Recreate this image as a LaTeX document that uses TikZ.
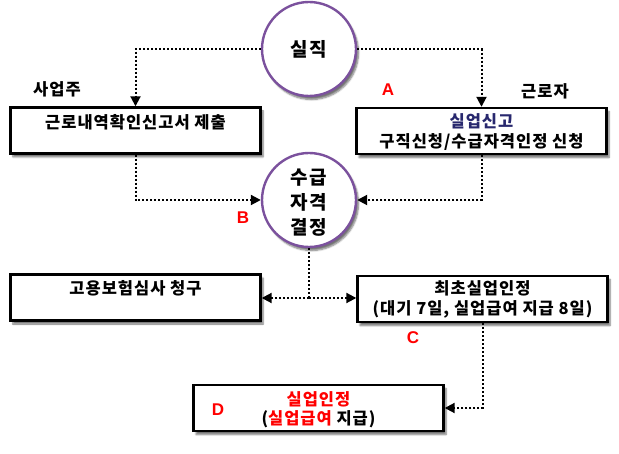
\documentclass[tikz,border=0pt]{standalone}
\usepackage{fontspec}
\newfontfamily\kr{Noto Sans CJK KR}[LetterSpace=6]
\newfontfamily\lat{Liberation Sans}
\usetikzlibrary{arrows.meta,shadows.blur}
\definecolor{cpurple}{RGB}{123,81,157}
\definecolor{cnavy}{RGB}{40,40,110}
\begin{document}
\begin{tikzpicture}[x=1pt,y=-1pt,
  shad/.style={blur shadow={shadow xshift=2.5pt,shadow yshift=-3.5pt,shadow blur steps=6,shadow opacity=55}},
  box/.style={draw=black,line width=2.4pt,fill=white,minimum width=250pt,minimum height=46pt,inner sep=0pt,shad},
  circ/.style={circle,draw=cpurple,line width=2.4pt,fill=white,minimum size=94pt,inner sep=0pt,shad},
  txt/.style={font=\kr\bfseries\fontsize{16.5}{18}\selectfont,inner sep=0pt},
  big/.style={font=\kr\bfseries\fontsize{19}{25}\selectfont,align=center,inner sep=0pt},
  letr/.style={font=\lat\bfseries\fontsize{17}{17}\selectfont,text=red,inner sep=0pt},
  conn/.style={dotted,line width=2pt,-{Triangle[length=10pt,width=10pt]}}]
\useasboundingbox (0,0) rectangle (619,454);

% nodes
\node[circ] (c1) at (309,49) {};
\node[big] (t1) at (309,49) {실직};
\node[circ] (c2) at (309,200) {};
\node[big] (t2) at (309,203) {수급\\자격\\결정};

\node[box] (b1) at (135.5,130.5) {};
\node[txt] (t3) at (135.5,122) {근로내역확인신고서 제출};
\node[box] (b2) at (481.5,131) {};
\node[txt,text=cnavy] (t4) at (481.5,121) {실업신고};
\node[txt] (t5) at (481.5,142) {구직신청/수급자격인정 신청};

\node[box] (b3) at (135.5,297.5) {};
\node[txt] (t6) at (135.5,288) {고용보험심사 청구};
\node[box] (b4) at (482.5,299) {};
\node[txt] (t7) at (482.5,288) {최초실업인정};
\node[txt] (t8) at (482.5,309.5) {(대기 7일, 실업급여 지급 8일)};

\node[box] (b5) at (318.5,408) {};
\node[txt,text=red] (t9) at (318.5,399) {실업인정};
\node[txt] (t10) at (318.5,419) {(\textcolor{red}{실업급여} 지급)};

% labels
\node[txt] (l1) at (57,89) {사업주};
\node[txt] (l2) at (545,91) {근로자};
\node[letr] (la) at (388,90) {A};
\node[letr] (lb) at (243,218) {B};
\node[letr] (lc) at (413,338) {C};
\node[letr] (ld) at (218,410) {D};

% connectors
\coordinate (j) at (309,298);
\draw[conn] (c1.west) -| (b1.north);
\draw[conn] (c1.east) -| (b2.north);
\draw[conn] (b1.south) |- (c2.west);
\draw[conn] (b2.south) |- (c2.east);
\draw[dotted,line width=2pt] (c2.south) -- (j);
\draw[conn] (j) -- (j -| b3.east);
\draw[conn] (j) -- (j -| b4.west);
\draw[conn] (b4.south) |- (b5.east);
\end{tikzpicture}
\end{document}
